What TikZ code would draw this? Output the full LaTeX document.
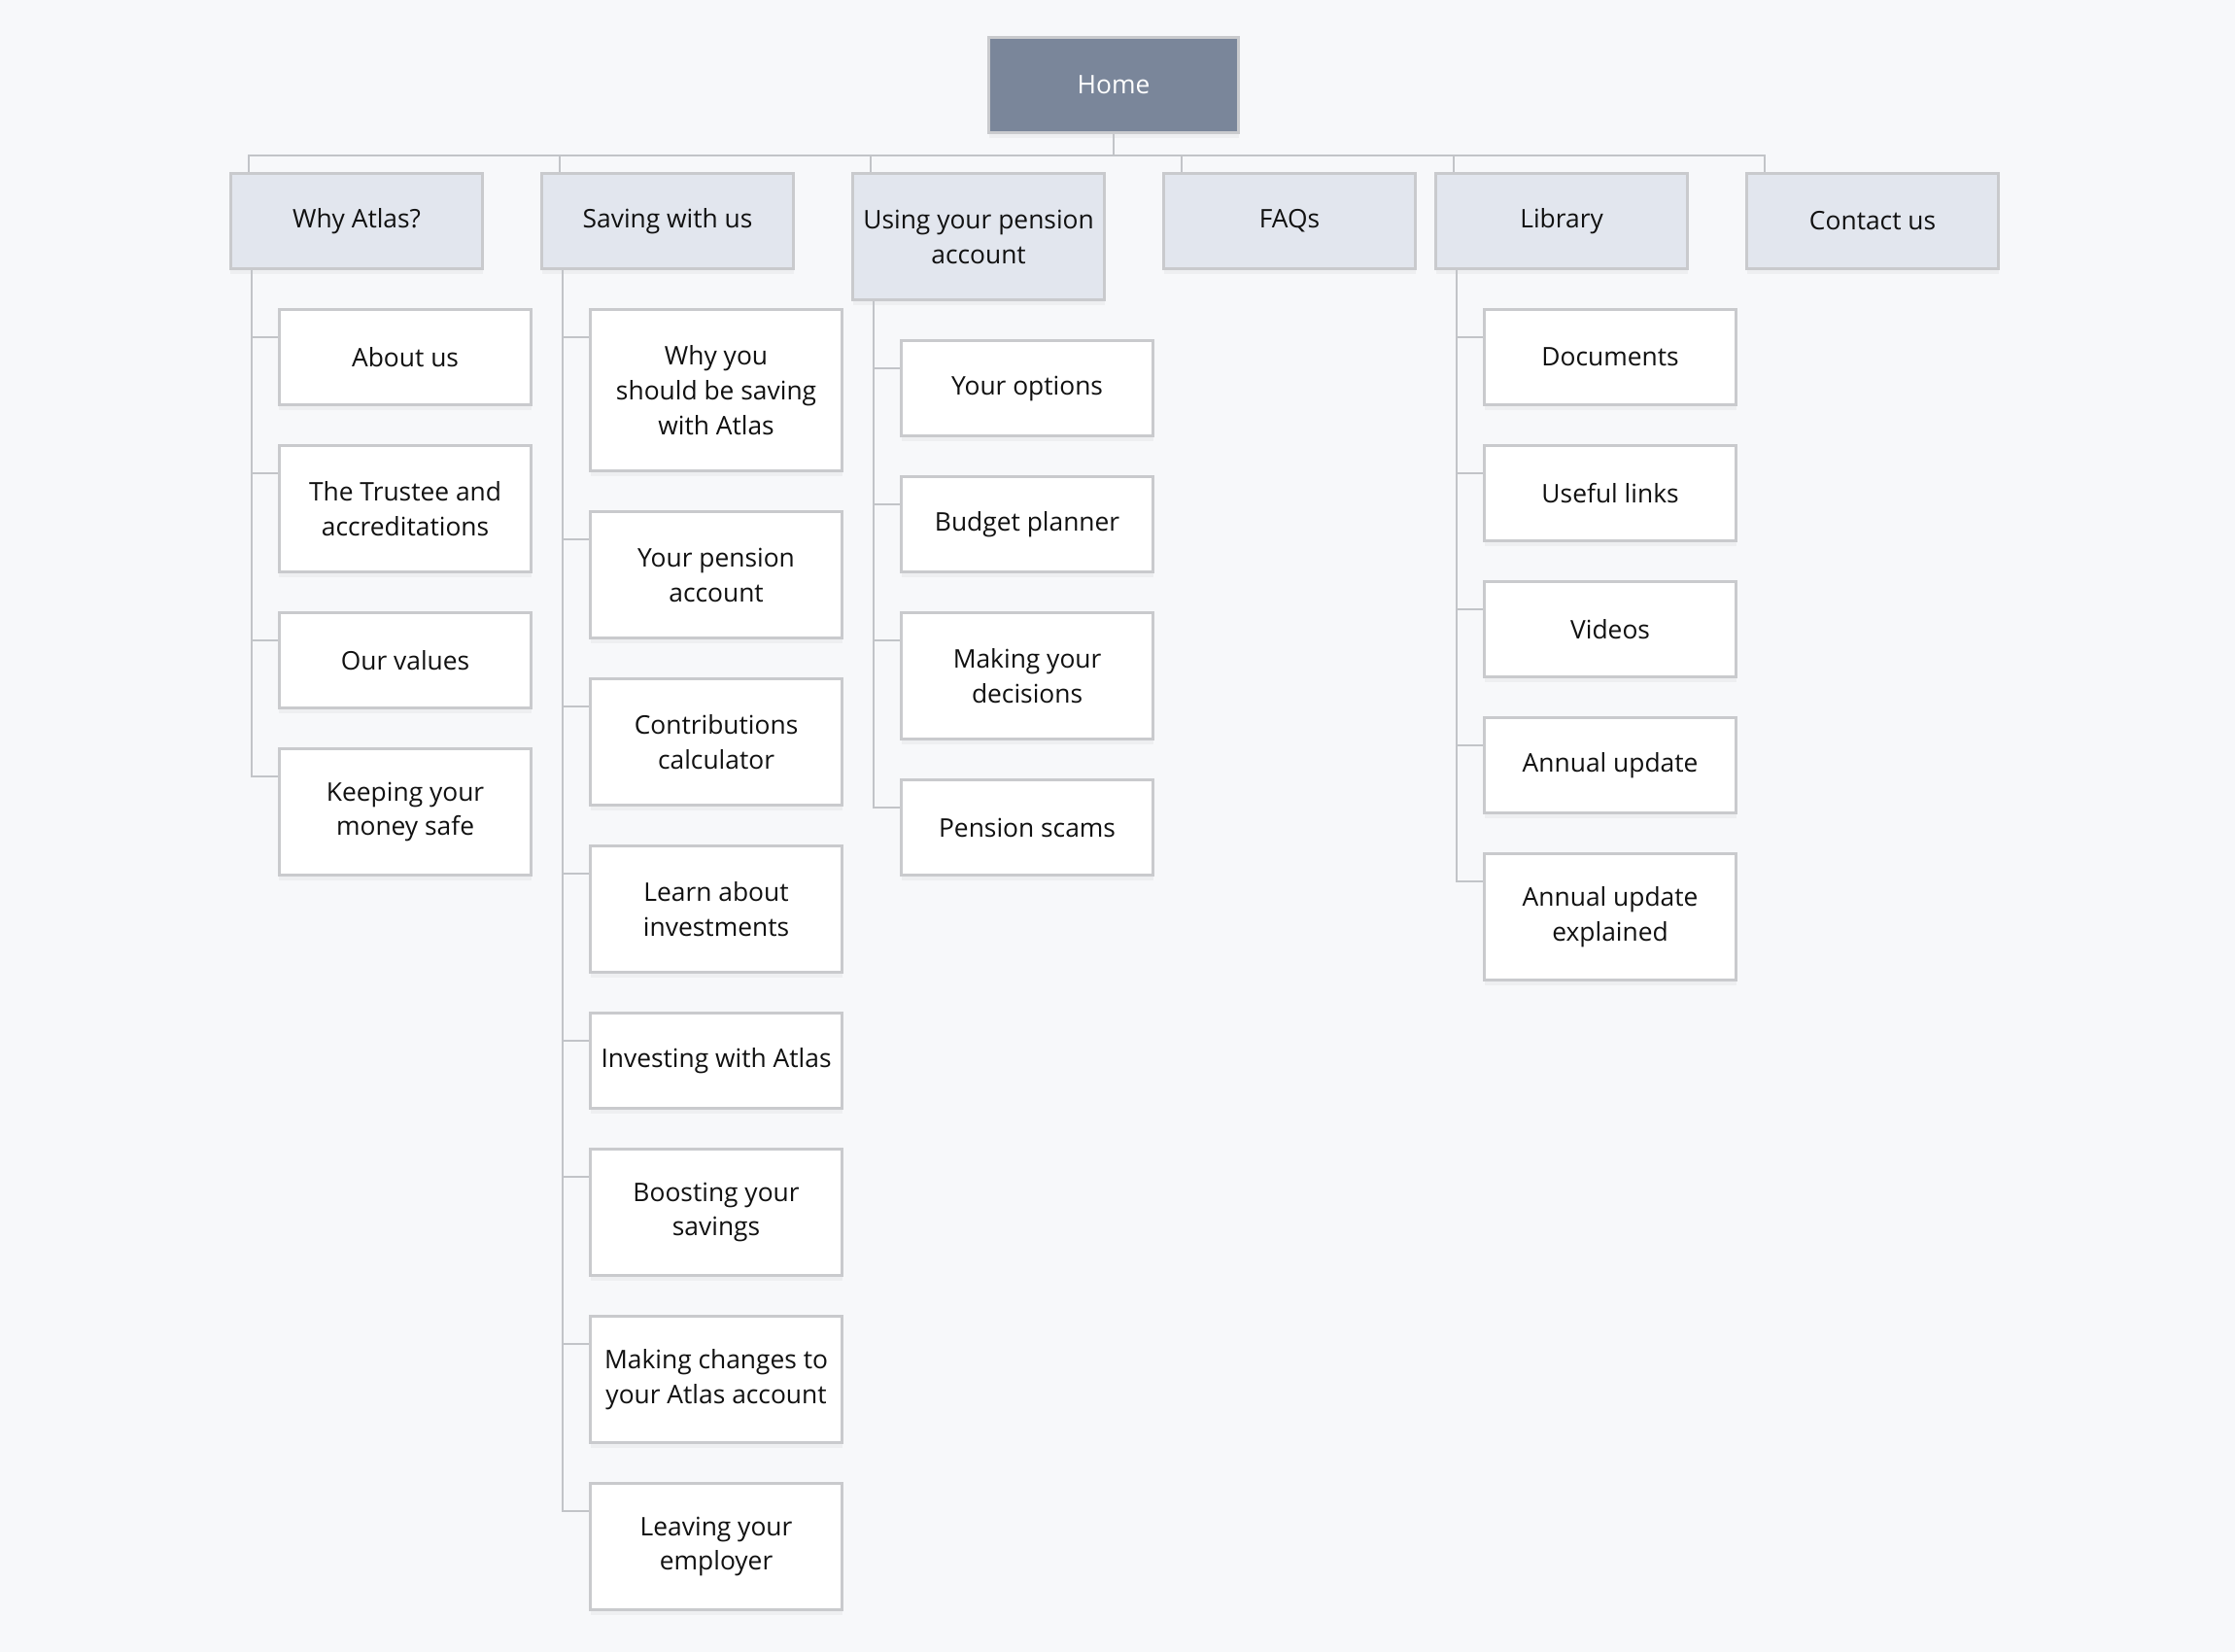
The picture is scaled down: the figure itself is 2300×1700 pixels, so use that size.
\documentclass[tikz,border=0pt]{standalone}
\usepackage{fontspec}
\setmainfont{Open Sans}
\usetikzlibrary{shadows}
\definecolor{pagebg}{HTML}{F7F8FA}
\definecolor{homefill}{HTML}{7A869A}
\definecolor{secfill}{HTML}{E2E6EE}
\definecolor{boxline}{HTML}{C9CACD}
\definecolor{linkline}{HTML}{C2C4C8}
\definecolor{textcol}{HTML}{111111}
\begin{document}
\begin{tikzpicture}[
    x=0.01cm, y=-0.01cm,
    box/.style={draw=boxline, line width=0.85pt, anchor=north west, minimum width=2.59cm, minimum height=0.98cm,
        inner sep=2pt, align=center, text=textcol, font=\fontsize{7.5}{10.2}\selectfont,
        drop shadow={shadow xshift=0pt, shadow yshift=-0.05cm, opacity=0.07}},
    homebox/.style={box, fill=homefill, text=white},
    sectionbox/.style={box, fill=secfill},
    pagebox/.style={box, fill=white},
    link/.style={draw=linkline, line width=0.6pt}
]
    \fill[pagebg] (0,0) rectangle (2300,1700);
    \useasboundingbox (0,0) rectangle (2300,1700);

    \node[homebox, minimum width=2.57cm] (home) at (1016,37) {Home};

    % sections
    \node[sectionbox] (why) at (236,177) {Why Atlas?};
    \node[sectionbox] (saving) at (556,177) {Saving with us};
    \node[sectionbox, minimum height=1.3cm] (using) at (876,177) {Using your pension\\account};
    \node[sectionbox] (faqs) at (1196,177) {FAQs};
    \node[sectionbox] (library) at (1476,177) {Library};
    \node[sectionbox] (contact) at (1796,177) {Contact us};

    \foreach \s in {why, saving, using, faqs, library, contact}
        \draw[link] (home.south) -- ++(0,22) -| ([xshift=0.2cm]\s.north west);

    % Why Atlas?
    \node[pagebox] (about) at (286,317) {About us};
    \node[pagebox, minimum height=1.3cm] (trustee) at (286,457) {The Trustee and\\accreditations};
    \node[pagebox] (values) at (286,629) {Our values};
    \node[pagebox, minimum height=1.3cm] (safe) at (286,769) {Keeping your\\money safe};

    \foreach \c in {about, trustee, values, safe}
        \draw[link] ([xshift=0.23cm]why.south west) |- ([yshift=-0.3cm]\c.north west);

    % Saving with us
    \node[pagebox, minimum height=1.66cm] (whysave) at (606,317) {Why you\\should be saving\\with Atlas};
    \node[pagebox, minimum height=1.3cm] (pensacc) at (606,525) {Your pension\\account};
    \node[pagebox, minimum height=1.3cm] (calc) at (606,697) {Contributions\\calculator};
    \node[pagebox, minimum height=1.3cm] (learn) at (606,869) {Learn about\\investments};
    \node[pagebox] (investing) at (606,1041) {Investing with Atlas};
    \node[pagebox, minimum height=1.3cm] (boost) at (606,1181) {Boosting your\\savings};
    \node[pagebox, minimum height=1.3cm] (changes) at (606,1353) {Making changes to\\your Atlas account};
    \node[pagebox, minimum height=1.3cm] (leaving) at (606,1525) {Leaving your\\employer};

    \foreach \c in {whysave, pensacc, calc, learn, investing, boost, changes, leaving}
        \draw[link] ([xshift=0.23cm]saving.south west) |- ([yshift=-0.3cm]\c.north west);

    % Using your pension account
    \node[pagebox] (options) at (926,349) {Your options};
    \node[pagebox] (budget) at (926,489) {Budget planner};
    \node[pagebox, minimum height=1.3cm] (decisions) at (926,629) {Making your\\decisions};
    \node[pagebox] (scams) at (926,801) {Pension scams};

    \foreach \c in {options, budget, decisions, scams}
        \draw[link] ([xshift=0.23cm]using.south west) |- ([yshift=-0.3cm]\c.north west);

    % Library
    \node[pagebox] (docs) at (1526,317) {Documents};
    \node[pagebox] (links) at (1526,457) {Useful links};
    \node[pagebox] (videos) at (1526,597) {Videos};
    \node[pagebox] (annual) at (1526,737) {Annual update};
    \node[pagebox, minimum height=1.3cm] (explained) at (1526,877) {Annual update\\explained};

    \foreach \c in {docs, links, videos, annual, explained}
        \draw[link] ([xshift=0.23cm]library.south west) |- ([yshift=-0.3cm]\c.north west);
\end{tikzpicture}
\end{document}
